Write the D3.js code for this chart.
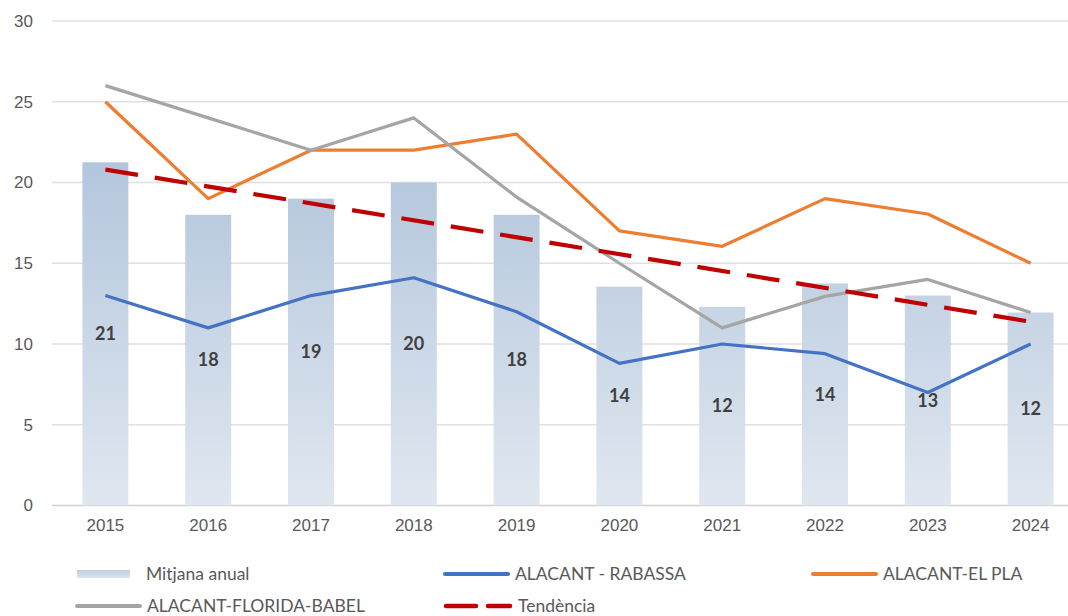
<!DOCTYPE html>
<html>
<head>
<meta charset="utf-8">
<script src="https://cdn.jsdelivr.net/npm/d3@7"></script>
<style>
  body { margin: 0; background: #fff; }
  svg { display: block; font-family: Lato, "Open Sans", sans-serif; }
  .axis text { fill: #595959; font-size: 17px; }
  .barlabel { fill: #404040; font-size: 18px; font-weight: bold; }
  .legend text { fill: #595959; font-size: 17.5px; }
</style>
</head>
<body>
<script>
var years = [2015, 2016, 2017, 2018, 2019, 2020, 2021, 2022, 2023, 2024];
var mitjana = [21.25, 18.0, 19.0, 20.0, 18.0, 13.55, 12.3, 13.75, 13.0, 11.95];
var rabassa = [13, 11, 13, 14.1, 12, 8.8, 10, 9.4, 7, 10];
var elPla = [25, 19, 22, 22, 23, 17, 16.05, 19, 18.05, 15];
var floridaBabel = [26, 24, 22, 24, 19.1, 15, 11, 12.95, 14, 11.95];
var tendenciaYears = [2015, 2024];
var tendencia = [20.8, 11.38];
var yTicks = [0, 5, 10, 15, 20, 25, 30];

var width = 1068, height = 616;

var svg = d3.select("body").append("svg")
    .attr("width", width)
    .attr("height", height);

var x = d3.scaleBand()
    .domain(years)
    .range([54, 1082])
    .paddingInner(0.553)
    .paddingOuter(0.2765);

var y = d3.scaleLinear()
    .domain([0, 30])
    .range([505.5, 21]);

// gradient for the bars
var defs = svg.append("defs");
var grad = defs.append("linearGradient")
    .attr("id", "barGrad")
    .attr("gradientUnits", "userSpaceOnUse")
    .attr("x1", 0).attr("x2", 0)
    .attr("y1", y(21.25)).attr("y2", y(0));
grad.append("stop").attr("offset", "0%").attr("stop-color", "#b3c6dc");
grad.append("stop").attr("offset", "100%").attr("stop-color", "#e0e7f0");

var legGrad = defs.append("linearGradient")
    .attr("id", "legGrad")
    .attr("x1", 0).attr("x2", 0).attr("y1", 0).attr("y2", 1);
legGrad.append("stop").attr("offset", "0%").attr("stop-color", "#bccde0");
legGrad.append("stop").attr("offset", "100%").attr("stop-color", "#dde5ef");

// gridlines
svg.append("g")
    .selectAll("line")
    .data(yTicks)
    .enter().append("line")
    .attr("x1", 52)
    .attr("x2", width)
    .attr("y1", function(d) { return y(d); })
    .attr("y2", function(d) { return y(d); })
    .attr("stroke", function(d) { return d === 0 ? "#d0d0d0" : "#e0e0e0"; })
    .attr("stroke-width", 1.5);

// y axis labels
var yAxis = d3.axisLeft(y)
    .tickValues(yTicks)
    .tickSize(0)
    .tickPadding(0);
svg.append("g")
    .attr("class", "axis")
    .attr("transform", "translate(33,0)")
    .call(yAxis)
    .call(function(g) { g.select(".domain").remove(); });

// x axis labels
var xAxis = d3.axisBottom(x).tickSize(0).tickPadding(0);
svg.append("g")
    .attr("class", "axis")
    .attr("transform", "translate(0,519)")
    .call(xAxis)
    .call(function(g) { g.select(".domain").remove(); });

var barData = years.map(function(yr, i) { return {year: yr, value: mitjana[i]}; });

svg.append("g")
    .selectAll("rect")
    .data(barData)
    .enter().append("rect")
    .attr("x", function(d) { return x(d.year); })
    .attr("y", function(d) { return y(d.value); })
    .attr("width", x.bandwidth())
    .attr("height", function(d) { return y(0) - y(d.value); })
    .attr("fill", "url(#barGrad)");

var line = d3.line()
    .x(function(d) { return x(d[0]) + x.bandwidth() / 2; })
    .y(function(d) { return y(d[1]); });

var series = [
  {name: "ALACANT - RABASSA", values: rabassa, color: "#4472c4"},
  {name: "ALACANT-EL PLA", values: elPla, color: "#ed7d31"},
  {name: "ALACANT-FLORIDA-BABEL", values: floridaBabel, color: "#a5a5a5"}
];

series.forEach(function(s) {
  svg.append("path")
      .datum(years.map(function(yr, i) { return [yr, s.values[i]]; }))
      .attr("d", line)
      .attr("fill", "none")
      .attr("stroke", s.color)
      .attr("stroke-width", 3.2)
      .attr("stroke-linejoin", "round");
});

svg.append("path")
    .datum(tendenciaYears.map(function(yr, i) { return [yr, tendencia[i]]; }))
    .attr("d", line)
    .attr("fill", "none")
    .attr("stroke", "#c00000")
    .attr("stroke-width", 4.2)
    .attr("stroke-dasharray", "33,17");

// bar labels in the middle of each bar
svg.append("g")
    .selectAll("text")
    .data(barData)
    .enter().append("text")
    .attr("class", "barlabel")
    .attr("text-anchor", "middle")
    .attr("dy", "0.35em")
    .attr("x", function(d) { return x(d.year) + x.bandwidth() / 2; })
    .attr("y", function(d) { return (y(d.value) + y(0)) / 2; })
    .text(function(d) { return d3.format(".0f")(d.value); });

// legend
var legend = svg.append("g").attr("class", "legend");

legend.append("rect")
    .attr("x", 77).attr("y", 570)
    .attr("width", 53).attr("height", 8)
    .attr("fill", "url(#legGrad)");
legend.append("text").attr("x", 146).attr("y", 574).attr("dy", "0.35em").text("Mitjana anual");

var legLines = [
  {x: 445, y: 574, color: "#4472c4", label: "ALACANT - RABASSA"},
  {x: 813, y: 574, color: "#ed7d31", label: "ALACANT-EL PLA"},
  {x: 77, y: 606, color: "#a5a5a5", label: "ALACANT-FLORIDA-BABEL"}
];
legLines.forEach(function(l) {
  legend.append("line")
      .attr("x1", l.x).attr("x2", l.x + 63)
      .attr("y1", l.y).attr("y2", l.y)
      .attr("stroke", l.color)
      .attr("stroke-width", 4)
      .attr("stroke-linecap", "round");
  legend.append("text").attr("x", l.x + 70).attr("y", l.y).attr("dy", "0.35em").text(l.label);
});

legend.append("line")
    .attr("x1", 446).attr("x2", 510)
    .attr("y1", 606).attr("y2", 606)
    .attr("stroke", "#c00000")
    .attr("stroke-width", 4.5)
    .attr("stroke-linecap", "round")
    .attr("stroke-dasharray", "30,12");
legend.append("text").attr("x", 518).attr("y", 606).attr("dy", "0.35em").text("Tendència");
</script>
</body>
</html>
